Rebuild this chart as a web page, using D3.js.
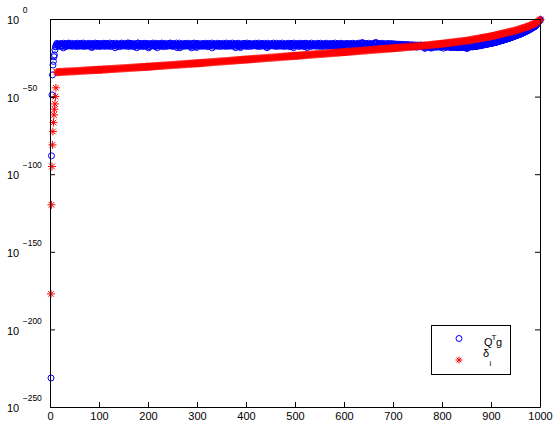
<!DOCTYPE html>
<html>
<head>
<meta charset="utf-8">
<script src="https://cdn.jsdelivr.net/npm/d3@7/dist/d3.min.js"></script>
<style>
  body { margin: 0; background: #fff; }
  svg { display: block; font-family: "Liberation Sans", Arial, sans-serif; }
</style>
</head>
<body>
<div id="chart"></div>
<script>
// values are stored as log10 of the plotted quantity
var qtgHeadIndex = [1, 2, 3, 4, 5, 6, 7, 8, 9, 10];
var qtgHeadLog = [-231, -87.8, -48.6, -35.7, -29.3, -27, -24, -22.8, -19.6, -17.6];

var deltaHeadIndex = [1, 2, 3, 4, 5, 6, 7, 8, 9, 10, 11];
var deltaHeadLog = [-176.8, -119.4, -94.7, -80.8, -72.2, -66.4, -61.5, -57.8, -54.4, -49.7, -44];

// after the start: even indices 12..1000, odd indices 11..999
var evenIndex = d3.range(12, 1001, 2);
var oddIndex = d3.range(11, 1000, 2);

var qtgEvenLog = [
  -16.4,-15.9,-16.8,-16.1,-15.7,-16.6,-17.2,-18.3,-16.0,-16.5,-15.8,-16.9,-16.2,-15.6,-16.7,-16.3,-17.0,-15.9,-16.4,-16.8,-15.7,-16.1,-16.6,-17.1,-16.0,
  -15.6,-16.9,-16.2,-15.8,-16.5,-17.0,-16.3,-15.7,-16.8,-16.1,-15.9,-18.1,-16.4,-16.7,-15.6,-16.2,-17.1,-16.0,-15.8,-16.6,-16.3,-16.9,-15.7,-16.4,-16.1,
  -16.8,-15.8,-16.2,-16.6,-17.0,-15.9,-16.4,-16.1,-15.6,-16.7,-18.2,-16.3,-15.9,-16.5,-16.9,-16.0,-15.7,-16.2,-16.4,-16.8,-16.1,-15.8,-16.6,-15.1,-16.3,
  -16.9,-15.7,-16.2,-16.5,-16.0,-17.0,-16.3,-18.2,-15.2,-16.4,-16.7,-15.9,-16.1,-16.8,-15.6,-16.3,-17.1,-16.0,-16.5,-18.3,-15.8,-16.4,-16.9,-16.1,-15.7,
  -16.6,-16.2,-17.0,-18.2,-15.9,-16.4,-16.7,-15.7,-16.1,-16.8,-16.3,-15.8,-16.5,-17.1,-16.0,-15.6,-15.2,-16.4,-16.9,-16.2,-15.9,-16.6,-16.3,-18.1,-16.0,
  -16.5,-18.2,-15.8,-16.3,-16.9,-16.1,-15.7,-16.6,-17.0,-16.2,-15.9,-16.4,-16.8,-18.3,-16.0,-15.6,-16.5,-16.2,-18.1,-16.7,-15.8,-16.3,-16.9,-16.1,-15.7,
  -16.4,-16.8,-16.0,-15.9,-16.6,-17.1,-16.2,-15.7,-16.5,-18.3,-16.1,-15.8,-16.7,-16.3,-16.9,-16.0,-15.6,-16.4,-16.8,-16.2,-15.9,-16.6,-17.0,-16.1,-15.8,
  -16.5,-16.2,-16.9,-15.7,-16.3,-16.7,-16.0,-15.9,-18.2,-16.4,-16.8,-15.8,-16.1,-18.1,-16.6,-16.2,-15.6,-16.5,-17.0,-16.3,-15.9,-16.7,-16.1,-15.8,-16.4,
  -16.9,-16.0,-15.7,-16.5,-16.2,-16.8,-15.9,-16.3,-17.0,-16.1,-15.6,-16.6,-16.4,-16.0,-16.7,-18.2,-15.8,-16.3,-16.9,-16.1,-15.7,-16.5,-16.2,-16.8,-15.9,
  -16.4,-16.7,-16.0,-15.8,-16.6,-17.0,-16.2,-15.9,-16.5,-16.8,-16.1,-15.7,-16.3,-16.9,-16.0,-15.6,-16.4,-18.2,-16.7,-16.1,-15.8,-16.5,-16.9,-16.2,-15.9,
  -16.6,-16.3,-17.0,-16.0,-15.7,-16.4,-18.1,-16.8,-16.1,-15.9,-16.5,-16.2,-16.9,-15.8,-16.3,-16.7,-16.0,-15.6,-16.4,-17.1,-16.2,-15.9,-16.6,-16.8,-16.1,
  -15.8,-16.5,-16.9,-16.2,-15.7,-16.4,-16.7,-16.0,-15.9,-16.6,-17.0,-16.3,-15.8,-16.5,-16.8,-16.1,-15.7,-16.4,-16.9,-16.2,-15.9,-16.6,-16.3,-17.0,-16.0,
  -15.8,-16.5,-16.8,-16.1,-15.9,-16.4,-16.7,-16.2,-15.7,-16.6,-16.9,-16.0,-15.3,-15.1,-16.4,-16.8,-16.2,-15.9,-16.6,-17.0,-16.3,-15.8,-16.5,-16.9,-16.1,
  -15.7,-15.2,-15.1,-16.4,-16.8,-16.2,-15.9,-16.6,-17.0,-16.3,-15.8,-16.5,-16.9,-16.1,-15.9,-16.6,-16.8,-16.3,-16.0,-16.7,-17.1,-16.4,-16.1,-16.8,-17.0,
  -16.4,-16.2,-16.9,-17.1,-16.5,-16.3,-16.8,-17.2,-16.6,-16.4,-16.9,-17.3,-16.7,-16.5,-17.0,-17.4,-16.8,-16.6,-17.1,-17.5,-16.9,-16.7,-17.2,-17.4,-16.8,
  -17.0,-18.6,-17.4,-16.9,-17.2,-17.6,-17.1,-16.9,-18.4,-17.3,-17.0,-17.5,-17.8,-17.2,-17.0,-17.4,-17.7,-17.1,-17.3,-17.6,-18.5,-17.2,-17.5,-17.8,-17.3,
  -17.1,-17.6,-17.9,-17.4,-17.2,-17.7,-18.0,-17.5,-17.3,-17.8,-18.1,-17.6,-17.4,-17.9,-17.7,-17.5,-17.8,-18.1,-17.6,-18.7,-17.7,-17.9,-17.5,-17.3,-17.6,
  -17.4,-17.5,-17.2,-17.3,-17.0,-17.1,-16.8,-16.9,-16.6,-16.6,-16.3,-16.4,-16.1,-16.1,-15.8,-15.9,-15.6,-15.6,-15.4,-15.4,-15.1,-15.1,-14.8,-14.8,-14.6,
  -14.4,-14.2,-14.0,-13.8,-13.7,-13.5,-13.3,-13.1,-12.9,-12.7,-12.5,-12.3,-12.1,-11.9,-11.6,-11.4,-11.2,-10.9,-10.7,-10.5,-10.3,-10.0,-9.8,-9.5,-9.3,
  -9.0,-8.7,-8.4,-8.1,-7.8,-7.5,-7.2,-6.8,-6.4,-6.1,-5.7,-5.3,-5.0,-4.6,-4.2,-3.4,-2.5,-1.7,-0.8,0
];

var qtgOddLog = [
  -17.3,-15.4,-16.9,-16.0,-17.4,-15.5,-16.6,-17.2,-15.3,-16.4,-17.5,-15.6,-16.8,-15.2,-17.1,-16.1,-15.4,-17.3,-16.5,-15.5,-16.9,-17.4,-15.3,-16.2,-17.0,
  -15.4,-17.2,-16.3,-15.2,-17.4,-16.0,-15.6,-17.1,-16.7,-15.3,-17.3,-16.1,-15.5,-17.5,-16.4,-15.2,-16.9,-17.2,-15.4,-16.6,-17.4,-15.5,-16.2,-17.1,-15.3,
  -17.3,-16.0,-15.4,-17.2,-16.6,-15.2,-17.4,-16.3,-15.5,-17.0,-16.8,-15.3,-17.3,-16.1,-15.6,-17.5,-16.4,-15.2,-17.1,-16.7,-15.4,-17.2,-16.0,-15.5,-17.4,
  -15.3,-16.9,-17.2,-15.4,-16.2,-17.5,-15.6,-16.7,-17.1,-15.2,-16.5,-17.3,-15.5,-16.0,-17.4,-15.3,-16.8,-17.2,-15.4,-16.3,-17.5,-15.6,-16.6,-17.0,-15.2,
  -16.2,-17.4,-15.3,-16.8,-17.1,-15.5,-16.0,-17.3,-15.2,-16.6,-17.5,-15.4,-16.3,-17.2,-15.6,-16.9,-17.0,-15.3,-16.4,-17.4,-15.5,-16.1,-17.2,-15.2,-16.7,
  -17.1,-15.2,-16.5,-17.4,-15.6,-16.2,-17.3,-15.4,-16.8,-17.0,-15.3,-16.4,-17.5,-15.5,-16.0,-17.2,-15.2,-16.7,-17.4,-15.4,-16.3,-17.1,-15.6,-16.9,-17.3,
  -15.5,-16.7,-17.2,-15.3,-16.1,-17.5,-15.4,-16.6,-17.0,-15.2,-16.4,-17.3,-15.6,-16.8,-17.1,-15.3,-16.2,-17.4,-15.5,-16.9,-17.2,-15.4,-16.0,-17.3,-15.2,
  -16.8,-17.3,-15.4,-16.3,-17.1,-15.2,-16.6,-17.4,-15.5,-16.0,-17.2,-15.3,-16.9,-17.5,-15.6,-16.4,-17.0,-15.4,-16.7,-17.3,-15.2,-16.1,-17.4,-15.5,-16.5,
  -17.2,-15.6,-16.4,-17.0,-15.3,-16.8,-17.4,-15.2,-16.2,-17.3,-15.5,-16.6,-17.1,-15.4,-16.0,-17.5,-15.3,-16.9,-17.2,-15.6,-16.3,-17.0,-15.2,-16.7,-17.4,
  -15.3,-16.5,-17.3,-15.5,-16.9,-17.1,-15.2,-16.1,-17.4,-15.6,-16.7,-17.2,-15.3,-16.4,-17.5,-15.4,-16.0,-17.3,-15.2,-16.8,-17.0,-15.5,-16.2,-17.4,-15.3,
  -16.6,-17.2,-15.4,-16.0,-17.5,-15.3,-16.8,-17.1,-15.5,-16.3,-17.4,-15.2,-16.7,-17.0,-15.6,-16.1,-17.3,-15.4,-16.9,-17.2,-15.3,-16.5,-17.4,-15.5,-16.2,
  -17.4,-15.3,-16.2,-17.1,-15.6,-16.7,-17.3,-15.4,-16.0,-17.2,-15.2,-16.9,-17.5,-15.5,-16.4,-17.0,-15.3,-16.6,-17.4,-15.6,-16.1,-17.2,-15.4,-16.8,-17.1,
  -15.5,-16.8,-17.2,-15.3,-16.4,-17.4,-15.6,-16.1,-17.0,-15.2,-16.7,-17.3,-15.0,-15.1,-16.9,-17.2,-15.4,-16.5,-17.5,-15.3,-16.0,-17.1,-15.6,-16.6,-17.4,
  -15.2,-15.0,-15.1,-17.2,-16.3,-15.5,-17.4,-16.8,-15.3,-16.0,-17.1,-15.6,-16.5,-17.3,-15.4,-16.9,-17.2,-15.5,-16.2,-17.4,-15.6,-16.7,-17.3,-15.8,-16.4,
  -17.3,-15.9,-16.6,-17.5,-16.0,-16.9,-17.6,-16.1,-16.7,-17.4,-16.2,-17.0,-17.7,-16.3,-16.8,-17.5,-16.4,-17.1,-17.8,-16.5,-17.0,-17.6,-16.4,-17.2,-17.7,
  -16.8,-17.6,-18.2,-17.0,-17.5,-16.9,-17.8,-18.3,-17.1,-17.4,-16.8,-17.7,-17.2,-16.9,-17.8,-17.3,-17.0,-17.6,-17.9,-17.2,-17.5,-17.0,-17.8,-17.4,-17.1,
  -17.8,-17.3,-17.6,-18.1,-17.2,-17.9,-17.5,-18.0,-17.4,-17.7,-18.2,-17.3,-17.8,-17.6,-18.1,-17.4,-17.9,-17.5,-18.3,-17.6,-18.0,-17.4,-17.8,-17.5,-17.2,
  -17.6,-17.2,-17.5,-17.0,-17.3,-16.8,-17.1,-16.6,-16.9,-16.4,-16.6,-16.1,-16.3,-15.9,-16.1,-15.6,-15.8,-15.4,-15.6,-15.2,-15.3,-14.9,-15.0,-14.6,-14.8,
  -14.4,-14.3,-14.0,-13.9,-13.7,-13.6,-13.3,-13.2,-12.9,-12.8,-12.5,-12.4,-12.1,-12.0,-11.7,-11.5,-11.2,-11.0,-10.7,-10.6,-10.3,-10.1,-9.8,-9.6,-9.3,
  -9.1,-8.8,-8.5,-8.2,-7.9,-7.6,-7.3,-7.0,-6.6,-6.2,-5.9,-5.5,-5.1,-4.8,-4.4,-3.8,-2.9,-2.1,-1.2,-0.4
];

var deltaEvenLog = [
  -34.0,-33.9,-33.9,-33.8,-33.8,-33.8,-33.7,-33.7,-33.6,-33.6,-33.6,-33.6,-33.5,-33.5,-33.5,-33.4,-33.4,-33.4,-33.3,-33.3,-33.3,-33.2,-33.2,-33.2,-33.1,
  -33.1,-33.0,-33.0,-33.0,-32.9,-32.9,-32.8,-32.8,-32.8,-32.7,-32.7,-32.6,-32.6,-32.6,-32.5,-32.5,-32.5,-32.4,-32.4,-32.4,-32.4,-32.3,-32.3,-32.2,-32.2,
  -32.2,-32.1,-32.1,-32.0,-32.0,-32.0,-31.9,-31.9,-31.8,-31.8,-31.8,-31.7,-31.7,-31.6,-31.6,-31.6,-31.5,-31.5,-31.4,-31.4,-31.4,-31.3,-31.3,-31.2,-31.2,
  -31.2,-31.1,-31.1,-31.0,-31.0,-31.0,-30.9,-30.9,-30.8,-30.8,-30.8,-30.7,-30.7,-30.6,-30.6,-30.6,-30.5,-30.5,-30.4,-30.4,-30.4,-30.3,-30.3,-30.2,-30.2,
  -30.1,-30.1,-30.0,-30.0,-30.0,-29.9,-29.9,-29.8,-29.8,-29.7,-29.7,-29.6,-29.6,-29.6,-29.5,-29.5,-29.4,-29.4,-29.3,-29.3,-29.3,-29.2,-29.2,-29.1,-29.1,
  -29.0,-29.0,-28.9,-28.9,-28.9,-28.8,-28.8,-28.7,-28.7,-28.6,-28.6,-28.5,-28.5,-28.5,-28.4,-28.4,-28.3,-28.3,-28.2,-28.2,-28.2,-28.1,-28.1,-28.0,-28.0,
  -27.9,-27.9,-27.8,-27.8,-27.7,-27.7,-27.6,-27.6,-27.5,-27.5,-27.4,-27.4,-27.3,-27.3,-27.2,-27.2,-27.1,-27.1,-27.0,-27.0,-27.0,-26.9,-26.9,-26.8,-26.8,
  -26.7,-26.7,-26.6,-26.6,-26.5,-26.5,-26.4,-26.4,-26.3,-26.3,-26.2,-26.2,-26.1,-26.1,-26.0,-26.0,-25.9,-25.9,-25.8,-25.8,-25.8,-25.7,-25.7,-25.6,-25.6,
  -25.5,-25.5,-25.4,-25.4,-25.3,-25.3,-25.2,-25.2,-25.1,-25.1,-25.0,-25.0,-24.9,-24.9,-24.8,-24.8,-24.7,-24.7,-24.6,-24.6,-24.6,-24.5,-24.5,-24.4,-24.4,
  -24.3,-24.3,-24.2,-24.2,-24.1,-24.1,-24.0,-24.0,-23.9,-23.9,-23.8,-23.8,-23.7,-23.7,-23.6,-23.6,-23.5,-23.5,-23.4,-23.4,-23.4,-23.3,-23.3,-23.2,-23.2,
  -23.1,-23.1,-23.0,-23.0,-22.9,-22.9,-22.8,-22.8,-22.7,-22.7,-22.6,-22.6,-22.5,-22.5,-22.4,-22.4,-22.3,-22.3,-22.2,-22.2,-22.2,-22.1,-22.1,-22.0,-22.0,
  -21.9,-21.9,-21.8,-21.8,-21.7,-21.7,-21.6,-21.6,-21.5,-21.5,-21.4,-21.4,-21.3,-21.3,-21.2,-21.2,-21.1,-21.1,-21.0,-21.0,-20.9,-20.9,-20.8,-20.8,-20.7,
  -20.7,-20.6,-20.6,-20.5,-20.5,-20.4,-20.4,-20.3,-20.3,-20.2,-20.2,-20.1,-20.1,-20.0,-20.0,-19.9,-19.9,-19.8,-19.8,-19.7,-19.7,-19.6,-19.6,-19.5,-19.5,
  -19.4,-19.4,-19.3,-19.3,-19.2,-19.2,-19.1,-19.1,-19.0,-19.0,-18.9,-18.9,-18.8,-18.8,-18.7,-18.7,-18.6,-18.6,-18.5,-18.5,-18.4,-18.4,-18.3,-18.3,-18.2,
  -18.2,-18.1,-18.1,-18.0,-18.0,-17.9,-17.8,-17.8,-17.7,-17.7,-17.6,-17.6,-17.5,-17.5,-17.4,-17.4,-17.3,-17.3,-17.2,-17.2,-17.1,-17.0,-17.0,-16.9,-16.9,
  -16.8,-16.7,-16.7,-16.6,-16.6,-16.5,-16.4,-16.4,-16.3,-16.2,-16.2,-16.1,-16.0,-16.0,-15.9,-15.9,-15.8,-15.7,-15.7,-15.6,-15.5,-15.4,-15.4,-15.3,-15.2,
  -15.1,-15.0,-15.0,-14.9,-14.8,-14.7,-14.6,-14.6,-14.5,-14.4,-14.3,-14.2,-14.2,-14.1,-14.0,-13.9,-13.8,-13.8,-13.7,-13.6,-13.5,-13.4,-13.3,-13.2,-13.0,
  -12.9,-12.8,-12.7,-12.6,-12.5,-12.4,-12.3,-12.2,-12.0,-11.9,-11.8,-11.7,-11.6,-11.5,-11.4,-11.3,-11.2,-11.0,-10.9,-10.8,-10.6,-10.5,-10.3,-10.2,-10.0,
  -9.9,-9.7,-9.6,-9.4,-9.3,-9.1,-9.0,-8.8,-8.7,-8.5,-8.4,-8.2,-8.1,-7.9,-7.8,-7.6,-7.5,-7.3,-7.2,-7.0,-6.8,-6.6,-6.4,-6.2,-6.0,
  -5.8,-5.6,-5.4,-5.2,-5.0,-4.8,-4.6,-4.3,-4.0,-3.8,-3.5,-3.2,-3.0,-2.7,-2.5,-2.0,-1.5,-1.0,-0.5,0
];

var xTicks = [0, 100, 200, 300, 400, 500, 600, 700, 800, 900, 1000];
var yTickExps = [0, -50, -100, -150, -200, -250];

var width = 554, height = 425;
var blue = "#0000ff", red = "#ff0000";

function toPoints(index, logs) {
  return index.map(function(d, i) {
    return {i: d, v: Math.pow(10, logs[i])};
  });
}

var qtg = toPoints(qtgHeadIndex, qtgHeadLog)
  .concat(toPoints(evenIndex, qtgEvenLog))
  .concat(toPoints(oddIndex, qtgOddLog));
var delta = toPoints(deltaHeadIndex, deltaHeadLog).concat(toPoints(evenIndex, deltaEvenLog));

var x = d3.scaleLinear().domain([0, 1000]).range([50, 540]);
var y = d3.scaleLog().domain([1e-250, 1]).range([407, 19]);

var svg = d3.select('#chart').append('svg')
  .attr('width', width)
  .attr('height', height);

svg.append('rect')
  .attr('width', width)
  .attr('height', height)
  .attr('fill', '#fff');

// MATLAB '*' marker
function starPath(r) {
  var k = r * 0.7071;
  return "M" + (-r) + ",0H" + r + "M0," + (-r) + "V" + r +
    "M" + (-k) + "," + (-k) + "L" + k + "," + k +
    "M" + (-k) + "," + k + "L" + k + "," + (-k);
}
var star = starPath(4);

svg.append('g').selectAll('circle')
  .data(qtg).enter().append('circle')
  .attr('cx', function(d) { return x(d.i) + 0.5; })
  .attr('cy', function(d) { return y(d.v) + 0.5; })
  .attr('r', 3)
  .attr('fill', 'none')
  .attr('stroke', blue)
  .attr('stroke-width', 1);

svg.append('g').selectAll('path')
  .data(delta).enter().append('path')
  .attr('transform', function(d) {
    return "translate(" + (x(d.i) + 0.5) + "," + (y(d.v) + 0.5) + ")";
  })
  .attr('d', star)
  .attr('fill', 'none')
  .attr('stroke', red)
  .attr('stroke-width', 1);

// axes, ticks point inward on all four sides
var yTickValues = yTickExps.map(function(e) { return Math.pow(10, e); });

function styleAxis(g) {
  g.selectAll('path, line').attr('stroke', '#000');
  g.selectAll('text')
    .attr('fill', '#000')
    .attr('font-size', 11)
    .attr('font-family', '"Liberation Sans", Arial, sans-serif');
}

svg.append('g')
  .attr('transform', 'translate(0,407)')
  .call(d3.axisBottom(x).tickValues(xTicks).tickSizeInner(-5).tickSizeOuter(0)
    .tickPadding(5.5).tickFormat(d3.format('d')))
  .call(styleAxis);

svg.append('g')
  .attr('transform', 'translate(0,19)')
  .call(d3.axisTop(x).tickValues(xTicks).tickSizeInner(-5).tickSizeOuter(0).tickFormat(''))
  .call(styleAxis);

svg.append('g')
  .attr('transform', 'translate(50,0)')
  .call(d3.axisLeft(y).tickValues(yTickValues).tickSizeInner(-5).tickSizeOuter(0).tickFormat(''))
  .call(styleAxis);

svg.append('g')
  .attr('transform', 'translate(540,0)')
  .call(d3.axisRight(y).tickValues(yTickValues).tickSizeInner(-5).tickSizeOuter(0).tickFormat(''))
  .call(styleAxis);

// y tick labels as 10^e
var yLabels = svg.append('g').selectAll('g')
  .data(yTickExps).enter().append('g')
  .attr('transform', function(e) {
    return "translate(0," + (y(Math.pow(10, e)) + 0.5) + ")";
  });

yLabels.append('text')
  .attr('x', 7)
  .attr('y', 4.7)
  .attr('font-size', 11)
  .text('10');

yLabels.append('text')
  .attr('x', 22.7)
  .attr('y', -6.3)
  .attr('font-size', 8.5)
  .text(function(e) { return e < 0 ? '\u2212' + (-e) : String(e); });

// legend
var legend = svg.append('g');

legend.append('rect')
  .attr('x', 431.5)
  .attr('y', 325.5)
  .attr('width', 79)
  .attr('height', 49)
  .attr('fill', '#fff')
  .attr('stroke', '#000');

legend.append('circle')
  .attr('cx', 459)
  .attr('cy', 338.5)
  .attr('r', 3)
  .attr('fill', 'none')
  .attr('stroke', blue);

legend.append('path')
  .attr('transform', 'translate(459,360)')
  .attr('d', starPath(3.5))
  .attr('fill', 'none')
  .attr('stroke', red);

legend.append('text').attr('x', 484).attr('y', 346).attr('font-size', 11).text('Q');
legend.append('text').attr('x', 491.5).attr('y', 339.5).attr('font-size', 8).text('T');
legend.append('text').attr('x', 496).attr('y', 346).attr('font-size', 11).text('g');
legend.append('text').attr('x', 483).attr('y', 357).attr('font-size', 11).text('\u03b4');
legend.append('text').attr('x', 489.5).attr('y', 365.5).attr('font-size', 8).text('i');
</script>
</body>
</html>
